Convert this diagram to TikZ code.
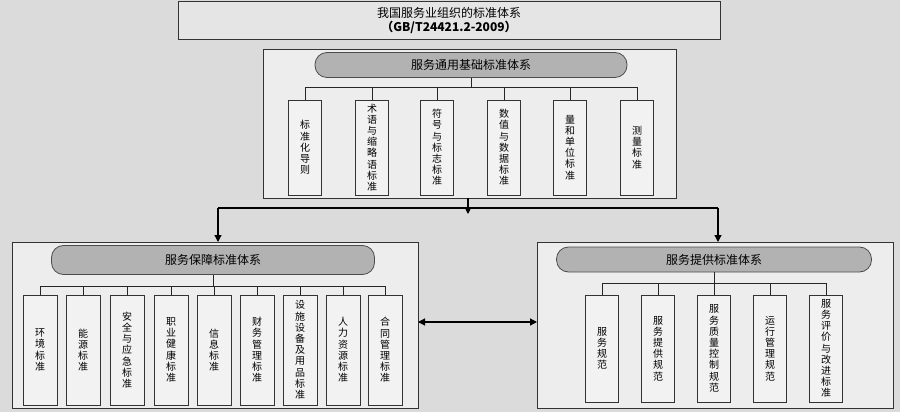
\documentclass[tikz,border=0pt]{standalone}
\usepackage{fontspec}
\setmainfont{Noto Sans CJK SC}
\usetikzlibrary{arrows.meta}
\tikzset{
 frame/.style={draw=black!80,line width=1pt,fill=black!7},
 banner/.style={draw=black!70,line width=0.8pt,fill=black!30,rounded corners=12pt,font=\fontsize{12}{14}\selectfont},
 sub/.style={draw=black!80,line width=1pt,fill=black!5,minimum width=33pt,align=center,font=\fontsize{10}{11.2}\selectfont,inner sep=0.5pt},
 bus/.style={draw=black!85,line width=0.9pt},
 arr/.style={draw=black,line width=1.2pt,-{Triangle[length=7pt,width=7pt]}},
}
\begin{document}
\begin{tikzpicture}[x=1pt,y=-1pt]
\fill[black!14] (0,0) rectangle (900,412);
\useasboundingbox (0,0) rectangle (900,412);
% title
\node[frame,fill=black!10,minimum width=542pt,minimum height=38pt,align=center,font=\fontsize{12}{14}\selectfont] (title) at (449,21) {我国服务业组织的标准体系\\{\bfseries（GB/T24421.2-2009）}};
% basic
\draw[frame] (263,50) rectangle (676,198);
\coordinate (bb) at (468,198);
\node[banner,minimum width=312pt,minimum height=25pt] (b0) at (471,65) {服务通用基础标准体系};
\foreach \i/\x/\t in {1/305/{标\\准\\化\\导\\则},2/372/{术\\语\\与\\缩\\略\\语\\标\\准},3/437/{符\\号\\与\\标\\志\\标\\准},4/504/{数\\值\\与\\数\\据\\标\\准},5/570/{量\\和\\单\\位\\标\\准},6/637/{测\\量\\标\\准}}{
  \node[sub,minimum height=95pt] (b\i) at (\x,147.5) {\t};
  \draw[bus] (b\i.north) -- (\x,87);
}
\draw[bus] (b1.north|-0,87) -- (b6.north|-0,87);
\draw[bus] (b0.south) -- (471,87);
% left
\draw[frame] (12,242) rectangle (418,408);
\node[banner,minimum width=323pt,minimum height=29pt] (l0) at (213,260) {服务保障标准体系};
\foreach \i/\x/\t in {1/40/{环\\境\\标\\准},2/83/{能\\源\\标\\准},3/127/{安\\全\\与\\应\\急\\标\\准},4/171/{职\\业\\健\\康\\标\\准},5/214/{信\\息\\标\\准},6/257/{财\\务\\管\\理\\标\\准},7/300/{设\\施\\设\\备\\及\\用\\品\\标\\准},8/343/{人\\力\\资\\源\\标\\准},9/385/{合\\同\\管\\理\\标\\准}}{
  \node[sub,minimum height=110pt,minimum width=34pt] (l\i) at (\x,350) {\t};
  \draw[bus] (l\i.north) -- (\x,286);
}
\draw[bus] (l1.north|-0,286) -- (l9.north|-0,286);
\draw[bus] (l0.south) -- (213,286);
% right
\draw[frame] (537,242) rectangle (893,408);
\node[banner,minimum width=315pt,minimum height=25pt] (r0) at (714,259.5) {服务提供标准体系};
\foreach \i/\x/\t in {1/602/{服\\务\\规\\范},2/658/{服\\务\\提\\供\\规\\范},3/714/{服\\务\\质\\量\\控\\制\\规\\范},4/770/{运\\行\\管\\理\\规\\范},5/826/{服\\务\\评\\价\\与\\改\\进\\标\\准}}{
  \node[sub,minimum height=107pt] (r\i) at (\x,348.5) {\t};
  \draw[bus] (r\i.north) -- (\x,283);
}
\draw[bus] (r1.north|-0,283) -- (r5.north|-0,283);
\draw[bus] (r0.south) -- (714,283);
% connectors
\coordinate (lt) at (218,242);
\coordinate (rt) at (718,242);
\draw[arr] (bb) -- (468,214);
\draw[arr] (218,208) -- (lt);
\draw[arr] (718,208) -- (rt);
\draw[draw=black,line width=1.2pt] (218,208) -- (718,208);
\coordinate (la) at (418,322);
\coordinate (ra) at (537,322);
\draw[line width=1.2pt,{Triangle[length=7pt,width=7pt]}-{Triangle[length=7pt,width=7pt]}] (la) -- (ra);
\end{tikzpicture}
\end{document}
